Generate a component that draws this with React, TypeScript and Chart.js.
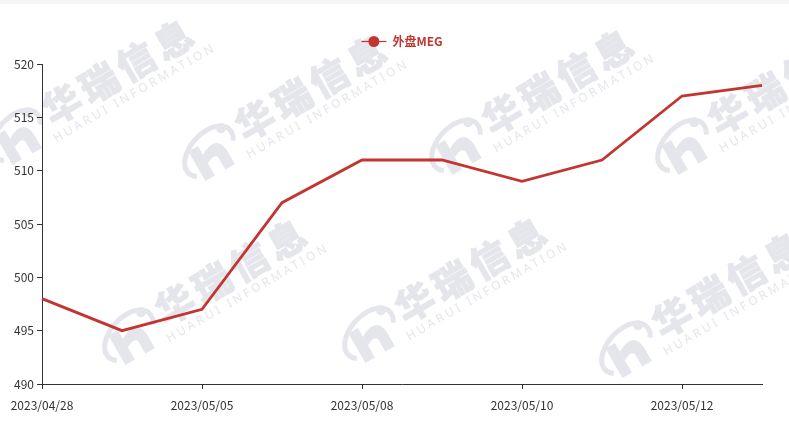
import React, { useEffect, useRef } from "react";
import { Chart, registerables } from "chart.js";

Chart.register(...registerables);

// ---- data ----
const categories = [
  "2023/04/28",
  "2023/05/04",
  "2023/05/05",
  "2023/05/06",
  "2023/05/08",
  "2023/05/09",
  "2023/05/10",
  "2023/05/11",
  "2023/05/12",
  "2023/05/15",
];
const megValues = [498, 495, 497, 507, 511, 511, 509, 511, 517, 518];
const seriesName = "外盘MEG";
const yMin = 490;
const yMax = 520;
const yStep = 5;

// ---- decoration (watermark logo anchors) ----
const watermarkAnchors = [
  [17, 137],
  [210, 153],
  [457, 147],
  [683, 147],
  [130, 337],
  [370, 335],
  [627, 350],
];

const RED = "#c23531";
const AXIS = "#333333";
const WM = "#e5e6ec";
const FONT = '"Noto Sans CJK SC", "Noto Sans", sans-serif';

function drawWatermark(ctx: CanvasRenderingContext2D, x: number, y: number) {
  ctx.save();
  ctx.translate(x, y);
  ctx.rotate((-30 * Math.PI) / 180);
  ctx.fillStyle = WM;
  ctx.strokeStyle = WM;
  // ring
  ctx.lineWidth = 5;
  ctx.beginPath();
  ctx.ellipse(0, -2, 30, 18, -0.3, Math.PI * 0.85, Math.PI * 2.2);
  ctx.stroke();
  ctx.beginPath();
  ctx.arc(22, -16, 5, 0, Math.PI * 2);
  ctx.fill();
  // "h" shape
  ctx.beginPath();
  ctx.moveTo(-18, -12);
  ctx.lineTo(-7, -12);
  ctx.lineTo(-7, 22);
  ctx.lineTo(-18, 22);
  ctx.closePath();
  ctx.fill();
  ctx.beginPath();
  ctx.moveTo(-7, -2);
  ctx.quadraticCurveTo(14, -14, 16, 6);
  ctx.lineTo(16, 22);
  ctx.lineTo(5, 22);
  ctx.lineTo(5, 8);
  ctx.quadraticCurveTo(3, 2, -7, 8);
  ctx.closePath();
  ctx.fill();
  // text
  ctx.textAlign = "center";
  ctx.textBaseline = "middle";
  ctx.font = `900 38px ${FONT}`;
  (ctx as any).letterSpacing = "5px";
  ctx.fillText("华瑞信息", 122, -6);
  ctx.lineWidth = 0.8;
  ctx.strokeText("华瑞信息", 122, -6);
  ctx.font = `12px "Noto Sans", sans-serif`;
  (ctx as any).letterSpacing = "3px";
  ctx.fillText("HUARUI INFORMATION", 124, 21);
  ctx.restore();
}

const watermarkPlugin = {
  id: "watermark",
  beforeDraw(chart: any) {
    const ctx = chart.ctx as CanvasRenderingContext2D;
    watermarkAnchors.forEach(([x, y]) => drawWatermark(ctx, x, y));
  },
};

// legend drawn on the canvas above the plot (line + circle marker, bold red text)
const legendPlugin = {
  id: "lineLegend",
  afterDraw(chart: any) {
    const ctx = chart.ctx as CanvasRenderingContext2D;
    const ds = chart.data.datasets[0];
    const { left, right } = chart.chartArea;
    const cy = 41;
    ctx.save();
    ctx.font = `bold 12px ${FONT}`;
    const label = String(ds.label);
    const tw = ctx.measureText(label).width;
    const iconW = 25;
    const gap = 6;
    const total = iconW + gap + tw;
    const x0 = (left + right) / 2 - total / 2;
    ctx.strokeStyle = ds.borderColor;
    ctx.lineWidth = 1.2;
    ctx.beginPath();
    ctx.moveTo(x0, cy + 0.5);
    ctx.lineTo(x0 + iconW, cy + 0.5);
    ctx.stroke();
    ctx.fillStyle = ds.borderColor;
    ctx.beginPath();
    ctx.arc(x0 + iconW / 2, cy + 0.5, 5.5, 0, Math.PI * 2);
    ctx.fill();
    ctx.textAlign = "left";
    ctx.textBaseline = "middle";
    ctx.fillText(label, x0 + iconW + gap, cy);
    ctx.restore();
  },
};

export default function App() {
  const ref = useRef<HTMLCanvasElement | null>(null);

  useEffect(() => {
    document.body.style.margin = "0";
    if (!ref.current) return;
    const chart = new Chart(ref.current, {
      type: "line",
      data: {
        labels: categories,
        datasets: [
          {
            label: seriesName,
            data: megValues,
            borderColor: RED,
            backgroundColor: RED,
            borderWidth: 2.8,
            pointRadius: 0,
            pointHoverRadius: 0,
            tension: 0,
            fill: false,
          },
        ],
      },
      options: {
        animation: false,
        responsive: false,
        maintainAspectRatio: false,
        layout: { padding: { top: 64, left: 0, right: 27, bottom: 0 } },
        plugins: {
          tooltip: { enabled: false },
          legend: { display: false },
        },
        scales: {
          x: {
            type: "category",
            offset: false,
            afterFit(scale: any) {
              scale.height = 48;
            },
            grid: {
              drawOnChartArea: false,
              drawTicks: true,
              tickLength: 5,
              color: AXIS,
            },
            border: { display: true, color: AXIS, width: 1 },
            ticks: {
              autoSkip: false,
              maxRotation: 0,
              padding: 9,
              color: AXIS,
              font: { family: FONT, size: 12 },
              callback(value: any, index: number) {
                return index % 2 === 0 ? categories[index] : null;
              },
            },
          },
          y: {
            min: yMin,
            max: yMax,
            afterFit(scale: any) {
              scale.width = 42;
            },
            grid: {
              drawOnChartArea: false,
              drawTicks: true,
              tickLength: 5,
              color: AXIS,
            },
            border: { display: true, color: AXIS, width: 1 },
            ticks: {
              stepSize: yStep,
              padding: 3,
              color: AXIS,
              font: { family: FONT, size: 12 },
            },
          },
        },
      },
      plugins: [watermarkPlugin, legendPlugin],
    });
    return () => chart.destroy();
  }, []);

  return (
    <div style={{ position: "relative", width: 789, height: 432, background: "#ffffff" }}>
      <div style={{ position: "absolute", left: 0, top: 0, width: 789, height: 4, background: "#f5f5f5" }} />
      <canvas
        ref={ref}
        width={789}
        height={432}
        style={{ position: "absolute", left: 0, top: 0, width: 789, height: 432 }}
      />
    </div>
  );
}
